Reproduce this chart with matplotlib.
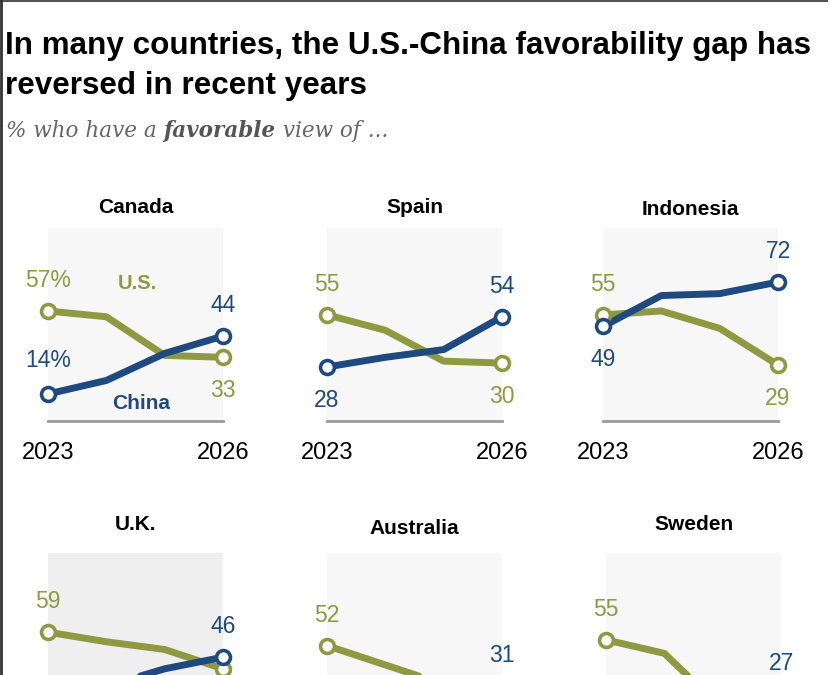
import matplotlib
matplotlib.use("Agg")
import matplotlib.pyplot as plt
from matplotlib.lines import Line2D

# ---------------- data ----------------
years = [2023, 2024, 2025, 2026]
countries = ["Canada", "Spain", "Indonesia", "U.K.", "Australia", "Sweden"]
us_canada = [57, 54, 34, 33]
us_spain = [55, 47, 31, 30]
us_indonesia = [55, 57, 48, 29]
us_uk = [59, 54, 50, 40]
us_australia = [52, 42, 32, 24]
us_sweden = [55, 48, 19, 19]
china_canada = [14, 21, 35, 44]
china_spain = [28, 33, 37, 54]
china_indonesia = [49, 65, 66, 72]
china_uk = [25, 31, 40, 46]
china_australia = [15, 20, 26, 31]
china_sweden = [14, 18, 22, 27]

us_all = [us_canada, us_spain, us_indonesia, us_uk, us_australia, us_sweden]
china_all = [china_canada, china_spain, china_indonesia, china_uk, china_australia, china_sweden]

OLIVE = "#8d9a42"
NAVY = "#1f4a80"

W, H = 840, 675
fig = plt.figure(figsize=(W / 100, H / 100), dpi=100)
fig.patch.set_facecolor("white")


def fx(x):
    return x / W


def fy(y):
    return 1 - y / H


# frame of the screenshot
fig.add_artist(Line2D([fx(0), fx(827)], [fy(0.8), fy(0.8)], color="#555555", lw=1.5))
fig.add_artist(Line2D([fx(1), fx(1)], [0, 1], color="#333333", lw=2))

# title / subtitle
title_font = ["Liberation Sans", "DejaVu Sans"]
fig.text(fx(5), fy(54), "In many countries, the U.S.-China favorability gap has",
         fontsize=22.6, fontweight="bold", family=title_font, va="baseline")
fig.text(fx(5), fy(94), "reversed in recent years",
         fontsize=22.6, fontweight="bold", family=title_font, va="baseline")
sub_font = ["DejaVu Serif", "Liberation Serif"]
renderer = fig.canvas.get_renderer()
t1 = fig.text(fx(6), fy(137), "% who have a ", fontsize=15.5, style="italic",
              color="#666666", family=sub_font, va="baseline")
bb = t1.get_window_extent(renderer=renderer)
t2 = fig.text(bb.x1 / W, fy(137), "favorable", fontsize=15.5, style="italic",
              fontweight="bold", color="#555555", family=sub_font, va="baseline")
bb2 = t2.get_window_extent(renderer=renderer)
fig.text(bb2.x1 / W, fy(137), " view of ...", fontsize=15.5, style="italic",
         color="#666666", family=sub_font, va="baseline")

# panel layout (pixels)
lefts = [48, 327, 603, 48, 327, 606]
tops = [228, 228, 228, 553, 553, 553]
pw, ph = 175, 193
title_gap = [20, 20, 18, 28, 24, 29]
bg_cols = ["#f7f7f7", "#f7f7f7", "#f7f7f7", "#efefef", "#f7f7f7", "#f7f7f7"]

num_font = ["Liberation Sans", "DejaVu Sans"]
UP, DOWN = 22, -24
labels = []

for i, name in enumerate(countries):
    l, t = lefts[i], tops[i]
    ax = fig.add_axes([fx(l), fy(t + ph), pw / W, ph / H])
    ax.set_xlim(2023, 2026)
    ax.set_ylim(0, 100)
    ax.set_facecolor(bg_cols[i])
    for s in ax.spines.values():
        s.set_visible(False)
    ax.set_xticks([])
    ax.set_yticks([])
    ax.axhline(0, color="#9a9a9a", lw=2, clip_on=False, zorder=1)

    us = us_all[i]
    ch = china_all[i]
    ax.plot(years, us, color=OLIVE, lw=5, solid_capstyle="round",
            solid_joinstyle="round", clip_on=False, zorder=3)
    ax.plot(years, ch, color=NAVY, lw=5, solid_capstyle="round",
            solid_joinstyle="round", clip_on=False, zorder=4)
    for vals, col, z in [(us, OLIVE, 5), (ch, NAVY, 6)]:
        ax.plot([years[0], years[-1]], [vals[0], vals[-1]], "o", ms=10,
                mfc="white", mec=col, mew=2.6, clip_on=False, zorder=z)

    # end labels
    for k in (0, -1):
        u, c = us[k], ch[k]
        su, sc = str(u), str(c)
        if i == 0 and k == 0:
            su += "%"
            sc += "%"
        du = UP if u >= c else DOWN
        dc = UP if c > u else DOWN
        if i == 0 and k == 0:
            dc = UP + 2
        labels.append(ax.annotate(su, (years[k], u), xytext=(0, du), textcoords="offset points",
                                  ha="center", va="center", color=OLIVE, fontsize=16.5,
                                  family=num_font, annotation_clip=False))
        labels.append(ax.annotate(sc, (years[k], c), xytext=(0, dc), textcoords="offset points",
                                  ha="center", va="center", color=NAVY, fontsize=16.5,
                                  family=num_font, annotation_clip=False))

    # year labels
    for yr in (years[0], years[-1]):
        labels.append(ax.annotate(str(yr), (yr, 0), xytext=(0, -23), textcoords="offset points",
                                  ha="center", va="center", fontsize=17, family=num_font,
                                  annotation_clip=False))

    # panel title
    ax.annotate(name, (0.5, 1), xycoords="axes fraction",
                xytext=(0, title_gap[i] * 0.72), textcoords="offset points",
                ha="center", va="center", fontsize=15, fontweight="bold",
                family=title_font, annotation_clip=False)

    if i == 0:
        ax.text(2024.53, 71, "U.S.", color=OLIVE, fontsize=14.5, fontweight="bold",
                family=title_font, ha="center", va="center")
        ax.text(2024.6, 9, "China", color=NAVY, fontsize=15, fontweight="bold",
                family=title_font, ha="center", va="center")

# texts that fall below the visible area are not part of the picture
for a in labels:
    if a.get_window_extent(renderer=renderer).y0 < 0:
        a.remove()

fig.savefig("out.png", dpi=100)
